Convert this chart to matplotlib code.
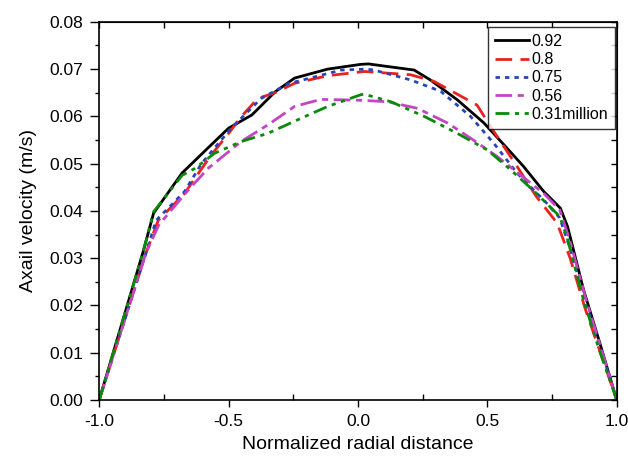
import numpy as np
import matplotlib
matplotlib.use('Agg')
import matplotlib.pyplot as plt
from matplotlib.ticker import MultipleLocator, NullFormatter

plt.rcParams['font.family'] = ['Liberation Sans', 'DejaVu Sans']
plt.rcParams['axes.unicode_minus'] = False

# Re = 0.92 million
x_092 = [-1.0, -0.83, -0.79, -0.68, -0.58, -0.50, -0.41, -0.32, -0.245, -0.117, 0.01, 0.04,
         0.217, 0.28, 0.384, 0.487, 0.564, 0.64, 0.718, 0.782, 0.81, 0.872, 0.935, 1.0]
v_092 = [0.0, 0.0314, 0.0395, 0.048, 0.0533, 0.0575, 0.0603, 0.0652, 0.0681, 0.0700, 0.0710, 0.0711,
         0.0698, 0.0677, 0.0635, 0.0586, 0.0540, 0.0494, 0.0441, 0.0406, 0.0367, 0.0233, 0.0120, 0.0]

# Re = 0.8 million
x_08 = [-1.0, -0.82, -0.772, -0.67, -0.63, -0.566, -0.50, -0.45, -0.387, -0.32, -0.245, -0.117,
        0.024, 0.204, 0.294, 0.46, 0.525, 0.615, 0.69, 0.77, 0.82, 0.88, 0.94, 1.0]
v_08 = [0.0, 0.031, 0.038, 0.0437, 0.0469, 0.0519, 0.0564, 0.0600, 0.0638, 0.0650, 0.0670, 0.0686,
        0.0695, 0.0688, 0.0674, 0.0624, 0.0568, 0.0494, 0.0430, 0.0374, 0.0300, 0.0190, 0.0095, 0.0]

# Re = 0.75 million
x_075 = [-1.0, -0.82, -0.78, -0.67, -0.605, -0.49, -0.374, -0.27, -0.065, 0.03, 0.063, 0.204,
         0.32, 0.435, 0.525, 0.615, 0.73, 0.78, 0.82, 0.88, 0.94, 1.0]
v_075 = [0.0, 0.031, 0.038, 0.0441, 0.0500, 0.0575, 0.0638, 0.0669, 0.0698, 0.0700, 0.0698, 0.0677,
         0.0653, 0.0600, 0.0543, 0.0480, 0.0416, 0.0385, 0.0320, 0.0205, 0.0105, 0.0]

# Re = 0.56 million
x_056 = [-1.0, -0.82, -0.77, -0.656, -0.579, -0.451, -0.348, -0.245, -0.143, 0.012, 0.114, 0.23,
         0.346, 0.435, 0.538, 0.628, 0.718, 0.78, 0.82, 0.88, 0.94, 1.0]
v_056 = [0.0, 0.031, 0.037, 0.0444, 0.0490, 0.0547, 0.0582, 0.0621, 0.0636, 0.0634, 0.0631, 0.0617,
         0.0586, 0.0554, 0.0515, 0.0476, 0.0437, 0.0402, 0.0335, 0.0215, 0.0108, 0.0]

# Re = 0.31 million
x_031 = [-1.0, -0.83, -0.79, -0.68, -0.63, -0.554, -0.45, -0.348, -0.22, -0.117, 0.012, 0.024,
         0.127, 0.256, 0.384, 0.50, 0.59, 0.69, 0.78, 0.81, 0.87, 0.93, 1.0]
v_031 = [0.0, 0.0314, 0.0398, 0.0475, 0.0490, 0.0522, 0.0547, 0.0564, 0.0596, 0.0621, 0.0646, 0.0647,
         0.0631, 0.0600, 0.0564, 0.0529, 0.0487, 0.0437, 0.0388, 0.0340, 0.0215, 0.0110, 0.0]

fig = plt.figure(figsize=(6.28, 4.65), dpi=100)
ax = fig.add_axes([0.158, 0.140, 0.824, 0.813])

lw = 2.0
ax.plot(x_092, v_092, color='black', lw=lw, label='0.92')
ax.plot(x_08, v_08, color='#e8231f', lw=lw, dashes=(6, 3), label='0.8')
ax.plot(x_075, v_075, color='#2a44b8', lw=lw, dashes=(1.6, 1.8), label='0.75')
ax.plot(x_056, v_056, color='#c445c4', lw=lw, dashes=(6, 2, 2.2, 2), label='0.56')
ax.plot(x_031, v_031, color='#0a8a0a', lw=lw, dashes=(5, 2, 1.5, 2, 1.5, 2), label='0.31million')

ax.set_xlim(-1.0, 1.0)
ax.set_ylim(0.0, 0.08)
ax.xaxis.set_major_locator(MultipleLocator(0.5))
ax.xaxis.set_minor_locator(MultipleLocator(0.25))
ax.yaxis.set_major_locator(MultipleLocator(0.01))
ax.yaxis.set_minor_locator(MultipleLocator(0.005))
ax.xaxis.set_major_formatter(plt.FuncFormatter(lambda v, p: f'{v:.1f}'))
ax.yaxis.set_major_formatter(plt.FuncFormatter(lambda v, p: f'{v:.2f}'))

ax.tick_params(axis='x', which='major', direction='out', length=5, width=1, labelsize=12.5, pad=5)
ax.tick_params(axis='x', which='minor', direction='in', length=4, width=1)
ax.tick_params(axis='y', which='major', direction='out', length=6.5, width=1, labelsize=12.5, pad=5)
ax.tick_params(axis='y', which='minor', direction='out', length=3, width=1)

top = ax.secondary_xaxis('top')
top.xaxis.set_major_locator(MultipleLocator(0.25))
top.xaxis.set_major_formatter(NullFormatter())
top.tick_params(direction='in', length=4, width=1)
right = ax.secondary_yaxis('right')
right.yaxis.set_major_locator(MultipleLocator(0.005))
right.yaxis.set_major_formatter(NullFormatter())
right.tick_params(direction='in', length=4, width=1)

for s in ax.spines.values():
    s.set_linewidth(1.2)

ax.set_xlabel('Normalized radial distance', fontsize=14, labelpad=5)
ax.set_ylabel('Axail velocity (m/s)', fontsize=14, labelpad=9)

leg = ax.legend(loc='upper right', bbox_to_anchor=(0.997, 0.987), fontsize=11.5,
                frameon=True, fancybox=False, edgecolor='black', handlelength=2.1,
                handletextpad=0.15, labelspacing=0.2, borderpad=0.45, borderaxespad=0)
leg.get_frame().set_linewidth(1.0)

fig.savefig('out.png', dpi=100)
